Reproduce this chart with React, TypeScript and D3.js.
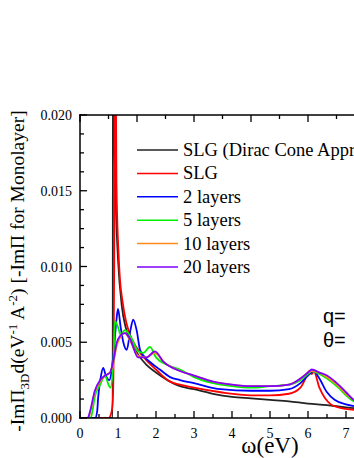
import * as d3 from "d3"
import React from "react"

// [omega (eV), value]
const dirac: [number, number][] = [
  [0, 0], [0.86, 0], [0.87, 0.03], [0.9, 0.02], [0.95, 0.0135], [1.0, 0.0105],
  [1.1, 0.0074], [1.2, 0.006], [1.35, 0.005], [1.5, 0.0043], [1.75, 0.0035],
  [2.0, 0.003], [2.3, 0.0025], [2.63, 0.0021], [3.0, 0.0019], [3.5, 0.0016],
  [4.0, 0.0014], [4.5, 0.0013], [5.0, 0.0012], [5.5, 0.0011], [6.0, 0.00095],
  [6.5, 0.00085], [7.0, 0.0007], [7.5, 0.0006], [8.0, 0.00055],
]
const slg: [number, number][] = [
  [0, 0], [0.75, 0], [0.82, 0.0003], [0.86, 0.001], [0.88, 0.003], [0.9, 0.01],
  [0.92, 0.03], [0.96, 0.0155], [1.01, 0.0111], [1.05, 0.0092], [1.12, 0.0077],
  [1.2, 0.0065], [1.3, 0.0056], [1.5, 0.0046], [1.75, 0.0038], [2.0, 0.0032],
  [2.37, 0.0024], [2.63, 0.0022], [3.0, 0.002], [3.7, 0.0017], [4.5, 0.0015],
  [5.0, 0.0015], [5.5, 0.0016], [5.8, 0.002], [5.95, 0.0027], [6.03, 0.0031],
  [6.1, 0.0029], [6.15, 0.0031], [6.3, 0.002], [6.45, 0.0013], [6.6, 0.0009],
  [6.8, 0.0007], [7.0, 0.0006], [7.5, 0.0005], [8.0, 0.0004],
]
const layers2: [number, number][] = [
  [0, 0], [0.4, 0], [0.45, 0.0004], [0.48, 0.0014], [0.54, 0.0026], [0.61, 0.0033],
  [0.68, 0.0028], [0.77, 0.0025], [0.88, 0.0042], [0.96, 0.0065], [1.0, 0.0072],
  [1.07, 0.006], [1.14, 0.005], [1.23, 0.0045], [1.32, 0.0057], [1.4, 0.0065],
  [1.49, 0.0058], [1.58, 0.0045], [1.71, 0.004], [1.89, 0.0036], [2.1, 0.0032],
  [2.37, 0.0027], [2.63, 0.0025], [3.0, 0.0023], [3.7, 0.0019], [4.5, 0.0018],
  [5.0, 0.0018], [5.5, 0.0019], [5.8, 0.0023], [6.0, 0.0028], [6.15, 0.0031],
  [6.3, 0.0026], [6.5, 0.0017], [6.7, 0.0012], [7.0, 0.0009], [7.5, 0.0007],
  [8.0, 0.0006],
]
const layers5: [number, number][] = [
  [0, 0], [0.28, 0], [0.33, 0.0005], [0.39, 0.0014], [0.53, 0.0022], [0.66, 0.0028],
  [0.75, 0.0022], [0.8, 0.002], [0.88, 0.0038], [0.92, 0.0064], [1.0, 0.006],
  [1.07, 0.0055], [1.18, 0.0058], [1.37, 0.0052], [1.53, 0.0044], [1.67, 0.0043],
  [1.84, 0.0047], [2.0, 0.004], [2.3, 0.0035], [2.63, 0.0032], [3.0, 0.0027],
  [3.5, 0.0023], [4.0, 0.0021], [4.5, 0.002], [5.0, 0.0021], [5.5, 0.0022],
  [5.8, 0.0025], [6.0, 0.0029], [6.1, 0.0031], [6.3, 0.0029], [6.5, 0.0026],
  [6.8, 0.002], [7.0, 0.0015], [7.2, 0.0011], [7.5, 0.0008], [8.0, 0.0006],
]
const layers10: [number, number][] = [
  [0, 0], [0.22, 0], [0.28, 0.0005], [0.39, 0.0017], [0.53, 0.0024], [0.66, 0.0028],
  [0.79, 0.003], [0.88, 0.0037], [0.97, 0.0048], [1.05, 0.0053], [1.18, 0.0056],
  [1.32, 0.0051], [1.53, 0.0041], [1.75, 0.004], [1.97, 0.0043], [2.2, 0.0037],
  [2.63, 0.0031], [3.0, 0.0028], [3.5, 0.0024], [4.0, 0.0022], [4.5, 0.0021],
  [5.0, 0.0021], [5.5, 0.0022], [5.8, 0.0026], [6.0, 0.003], [6.1, 0.0031],
  [6.3, 0.003], [6.5, 0.0027], [6.8, 0.0021], [7.0, 0.0016], [7.2, 0.0012],
  [7.5, 0.0009], [8.0, 0.0006],
]
const layers20: [number, number][] = [
  [0, 0], [0.2, 0], [0.26, 0.0004], [0.39, 0.0018], [0.53, 0.0025], [0.66, 0.0028],
  [0.79, 0.003], [0.88, 0.0038], [0.97, 0.005], [1.05, 0.0054], [1.18, 0.0056],
  [1.32, 0.0052], [1.53, 0.004], [1.75, 0.004], [1.97, 0.0044], [2.2, 0.0037],
  [2.63, 0.0031], [3.0, 0.0028], [3.5, 0.0024], [4.0, 0.0022], [4.5, 0.0021],
  [5.0, 0.0021], [5.5, 0.0022], [5.8, 0.0026], [6.0, 0.003], [6.1, 0.0032],
  [6.3, 0.003], [6.5, 0.0028], [6.8, 0.0022], [7.0, 0.0017], [7.2, 0.0012],
  [7.5, 0.0009], [8.0, 0.0006],
]

const seriesNames = ["SLG (Dirac Cone Approximation)", "SLG", "2 layers", "5 layers", "10 layers", "20 layers"]
const seriesColors = ["#222222", "#ff0000", "#0000ff", "#00ee00", "#ff8c1a", "#8000ff"]
const seriesData = [dirac, slg, layers2, layers5, layers10, layers20]

const xTicks = [0, 1, 2, 3, 4, 5, 6, 7, 8]
const yTicks = [0, 0.005, 0.01, 0.015, 0.02]

const W = 354
const H = 458
const serif = "'Liberation Serif', 'DejaVu Serif', serif"
const sans = "'Liberation Sans', 'DejaVu Sans', sans-serif"

export default function App() {
  const x = d3.scaleLinear().domain([0, 8]).range([80, 384])
  const y = d3.scaleLinear().domain([0, 0.02]).range([418, 115])
  const line = d3
    .line<[number, number]>()
    .x((d) => x(d[0]))
    .y((d) => y(d[1]))
    .curve(d3.curveMonotoneX)

  const xMinor = d3.range(0, 8.01, 0.5)
  const yMinor = d3.range(0, 0.02001, 0.00125)
  const topMinor = d3.range(0, 8.01, 0.75)

  return (
    <svg
      width={W}
      height={H}
      style={{ position: "absolute", left: 0, top: 0, background: "#fff", fontFamily: serif }}
    >
      <defs>
        <clipPath id="plot">
          <rect x={80} y={115} width={304} height={303} />
        </clipPath>
      </defs>

      <g clipPath="url(#plot)" fill="none" strokeWidth={1.8}>
        {seriesData.map((d, i) => (
          <path key={i} d={line(d) || ""} stroke={seriesColors[i]} />
        ))}
      </g>

      {/* frame */}
      <g stroke="#000" strokeWidth={1.5} fill="none">
        <line x1={80} x2={80} y1={114.3} y2={418.7} />
        <line x1={79.3} x2={W} y1={115} y2={115} />
        <line x1={79.3} x2={W} y1={418} y2={418} />
      </g>

      {/* ticks */}
      <g stroke="#000" strokeWidth={1.3}>
        {xMinor.map((v) => {
          const major = Math.abs(v - Math.round(v)) < 1e-6
          return <line key={v} x1={x(v)} x2={x(v)} y1={418} y2={418 - (major ? 7 : 4)} />
        })}
        {yMinor.map((v) => {
          const major = Math.abs(v / 0.005 - Math.round(v / 0.005)) < 1e-6
          return <line key={v} x1={80} x2={80 + (major ? 7 : 4)} y1={y(v)} y2={y(v)} />
        })}
        {topMinor.map((v, i) => (
          <line key={v} x1={x(v)} x2={x(v)} y1={115} y2={115 + (i % 2 === 0 ? 7 : 4)} />
        ))}
      </g>

      <g fontSize={14} fill="#000">
        {xTicks.map((v) => (
          <text key={v} x={x(v)} y={438} textAnchor="middle">
            {v}
          </text>
        ))}
        {yTicks.map((v) => (
          <text key={v} x={72} y={y(v) + 5} textAnchor="end">
            {v.toFixed(3)}
          </text>
        ))}
      </g>

      <text x={270} y={453} fontSize={23} textAnchor="middle">
        ω(eV)
      </text>

      <text transform="translate(24,271) rotate(-90)" fontSize={19.5} textAnchor="middle">
        -ImΠ
        <tspan fontSize={13} dy={5}>3D</tspan>
        <tspan dy={-5}>d(eV</tspan>
        <tspan fontSize={13} dy={-7}>-1</tspan>
        <tspan dy={7}> A</tspan>
        <tspan fontSize={13} dy={-7}>-2</tspan>
        <tspan dy={7}>) [-ImΠ for Monolayer]</tspan>
      </text>

      {/* legend */}
      <g fontSize={18.5}>
        {seriesNames.map((n, i) => {
          const ly = 150 + i * 23.4
          return (
            <g key={n}>
              <line x1={137} x2={178} y1={ly} y2={ly} stroke={seriesColors[i]} strokeWidth={1.5} />
              <text x={183} y={ly + 6}>
                {n}
              </text>
            </g>
          )
        })}
      </g>

      <g fontSize={20} style={{ fontFamily: sans }}>
        <text x={323} y={323}>q=</text>
        <text x={323} y={347}>θ=</text>
      </g>
    </svg>
  )
}
